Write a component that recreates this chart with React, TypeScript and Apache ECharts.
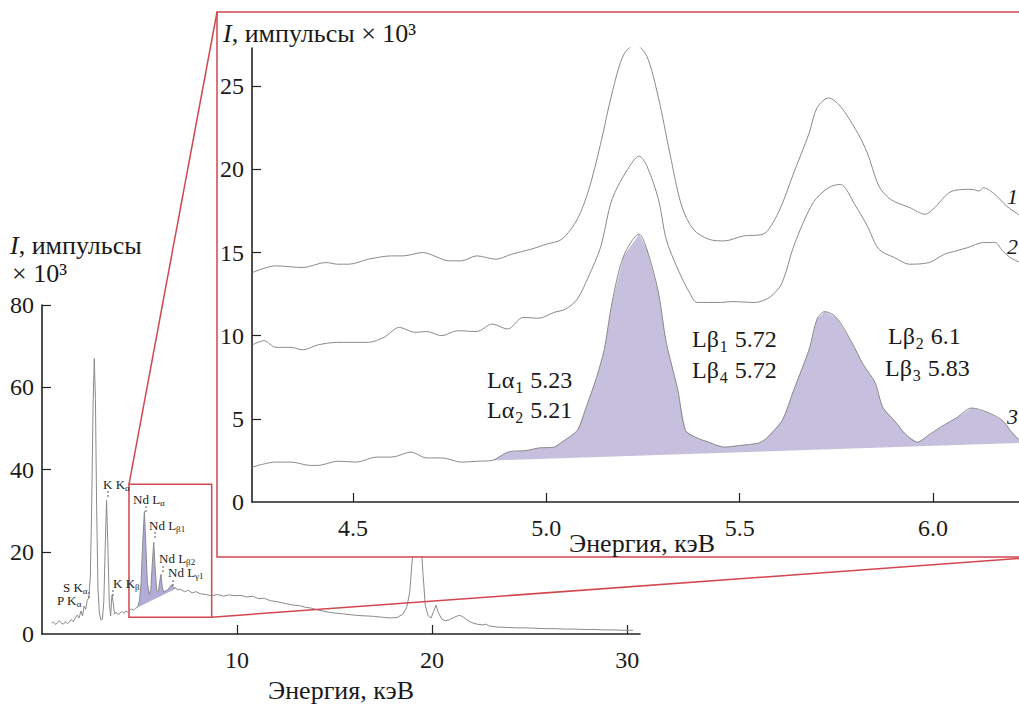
import React, { useEffect, useRef } from 'react';
import * as echarts from 'echarts';

// ---------- data ----------
const MAIN_SPECTRUM: [number, number][] = [
  [0.5, 2.6], [0.6, 2.9], [0.7, 2.3], [0.8, 2.8], [0.9, 3.2], [1.0, 2.6], [1.1, 2.4], [1.2, 3.0], [1.3, 2.5],
  [1.4, 2.9], [1.5, 3.5], [1.6, 3.0], [1.7, 3.8], [1.8, 4.6], [1.9, 3.9], [2.0, 5.6], [2.08, 4.4], [2.16, 6.8],
  [2.24, 6.0], [2.32, 8.2], [2.4, 8.8], [2.48, 14], [2.55, 32], [2.62, 56], [2.68, 67], [2.74, 57], [2.8, 31],
  [2.87, 11], [2.94, 5.2], [3.02, 3.4], [3.1, 3.6], [3.17, 8], [3.24, 21], [3.31, 32.5], [3.38, 21], [3.45, 7.5],
  [3.52, 4.4], [3.59, 9.5], [3.65, 7.6], [3.72, 4.8], [3.8, 5.3], [3.9, 4.7], [4.0, 5.1], [4.1, 5.5], [4.2, 5.0],
  [4.3, 5.6], [4.4, 5.3], [4.5, 5.8], [4.6, 6.1], [4.7, 5.8], [4.8, 6.3], [4.9, 6.5], [5.0, 8.2], [5.08, 12.5],
  [5.16, 22], [5.25, 29.8], [5.32, 22], [5.4, 12.5], [5.5, 9.6], [5.58, 10.8], [5.66, 17.5], [5.73, 22.3],
  [5.8, 16], [5.88, 10.6], [5.96, 10.3], [6.04, 12.8], [6.1, 14.5], [6.17, 11.2], [6.25, 10.2], [6.35, 10.5],
  [6.45, 10.7], [6.55, 11.4], [6.65, 12.0], [6.75, 11.1], [6.85, 11.3], [6.95, 10.7], [7.1, 10.9], [7.3, 10.3],
  [7.5, 10.6], [7.7, 10.0], [7.9, 10.3], [8.1, 9.8], [8.4, 9.6], [8.7, 9.3], [9.0, 9.6], [9.3, 9.2], [9.6, 9.5],
  [9.9, 9.3], [10.2, 9.4], [10.5, 9.0], [10.8, 9.2], [11.1, 8.6], [11.4, 8.7], [11.7, 8.1], [12.0, 7.9],
  [12.3, 7.6], [12.6, 7.3], [12.9, 7.0], [13.2, 6.9], [13.5, 6.5], [13.8, 6.3], [14.1, 5.9], [14.4, 5.6],
  [14.7, 5.3], [15.0, 5.1], [15.4, 4.9], [15.8, 4.7], [16.2, 4.5], [16.6, 4.4], [17.0, 4.3], [17.4, 4.1],
  [17.8, 3.9], [18.2, 4.0], [18.5, 4.8], [18.7, 6.5], [18.85, 10], [19.0, 19], [19.12, 32], [19.25, 38],
  [19.38, 30], [19.5, 17], [19.65, 7], [19.8, 4.4], [19.95, 3.9], [20.08, 5.5], [20.2, 7.0], [20.32, 5.2],
  [20.5, 3.6], [20.7, 3.2], [20.9, 3.5], [21.1, 4.0], [21.3, 4.4], [21.45, 4.5], [21.6, 4.1], [21.8, 3.4],
  [22.0, 2.8], [22.3, 2.4], [22.6, 2.2], [22.75, 2.4], [22.9, 2.0], [23.3, 1.7], [23.8, 1.6], [24.3, 1.5],
  [24.8, 1.5], [25.3, 1.4], [25.8, 1.3], [26.3, 1.3], [26.8, 1.2], [27.3, 1.2], [27.8, 1.1], [28.3, 1.1],
  [28.8, 1.0], [29.3, 1.0], [29.8, 0.9], [30.3, 0.9],
];
const MAIN_FILL_BASE: [number, number][] = [[4.92, 6.5], [6.85, 11.0]];
const ZOOM_BOX = { x0: 4.46, x1: 8.7, y0: 4.1, y1: 36.4 };
const MAIN_X_TICKS = [10, 20, 30];
const MAIN_Y_TICKS = [0, 20, 40, 60, 80];

const INSET_CURVE_1: [number, number][] = [
  [4.24, 13.8], [4.3, 14.2], [4.37, 14.1], [4.43, 14.4], [4.46, 14.3], [4.49, 14.3], [4.54, 14.6], [4.6, 14.8],
  [4.63, 14.8], [4.68, 15.0], [4.75, 14.5], [4.78, 14.5], [4.82, 14.8], [4.87, 14.6], [4.91, 14.9], [4.96, 15.2],
  [5.0, 15.5], [5.04, 15.8], [5.08, 17.0], [5.11, 18.8], [5.14, 21.5], [5.17, 24.6], [5.2, 26.9], [5.23, 27.5],
  [5.26, 26.8], [5.29, 24.3], [5.32, 20.9], [5.35, 17.8], [5.38, 16.4], [5.42, 15.8], [5.46, 15.7], [5.51, 16.0],
  [5.56, 16.1], [5.6, 17.4], [5.64, 19.8], [5.68, 22.2], [5.7, 23.7], [5.73, 24.3], [5.76, 23.8], [5.8, 22.4],
  [5.83, 21.0], [5.86, 19.0], [5.89, 18.2], [5.94, 17.7], [5.98, 17.3], [6.0, 17.6], [6.05, 18.7], [6.1, 18.8],
  [6.12, 18.7], [6.13, 18.9], [6.16, 18.5], [6.19, 17.8], [6.225, 17.2], [6.25, 16.5],
];
const INSET_CURVE_2: [number, number][] = [
  [4.24, 9.45], [4.27, 9.7], [4.3, 9.3], [4.34, 9.3], [4.37, 9.15], [4.41, 9.45], [4.46, 9.6], [4.49, 9.6],
  [4.54, 9.6], [4.58, 9.9], [4.62, 10.5], [4.66, 10.2], [4.69, 10.25], [4.73, 10.0], [4.77, 10.3], [4.82, 10.25],
  [4.86, 10.7], [4.9, 10.4], [4.94, 11.1], [4.98, 11.05], [5.02, 11.4], [5.05, 11.6], [5.08, 12.2], [5.11, 13.6],
  [5.14, 15.3], [5.17, 18.2], [5.21, 20.0], [5.24, 20.8], [5.26, 20.2], [5.29, 18.2], [5.31, 15.8], [5.34, 14.0],
  [5.37, 12.6], [5.39, 12.0], [5.45, 12.0], [5.48, 12.05], [5.54, 12.0], [5.58, 12.35], [5.61, 13.2], [5.64, 15.4],
  [5.69, 18.0], [5.73, 18.9], [5.76, 19.1], [5.8, 17.8], [5.83, 16.6], [5.86, 15.2], [5.9, 14.7], [5.94, 14.3],
  [5.99, 14.4], [6.03, 14.9], [6.06, 15.1], [6.09, 15.3], [6.13, 15.6], [6.16, 15.6], [6.18, 15.1], [6.2, 14.7],
  [6.225, 14.4], [6.25, 14.1],
];
const INSET_CURVE_3: [number, number][] = [
  [4.24, 2.1], [4.3, 2.4], [4.34, 2.4], [4.39, 2.2], [4.41, 2.2], [4.46, 2.45], [4.51, 2.4], [4.56, 2.7],
  [4.6, 2.7], [4.65, 3.0], [4.69, 2.65], [4.73, 2.65], [4.78, 2.4], [4.82, 2.45], [4.86, 2.5], [4.9, 3.0],
  [4.95, 3.1], [4.98, 3.25], [5.02, 3.3], [5.04, 3.6], [5.08, 4.3], [5.1, 5.5], [5.13, 7.5], [5.15, 9.2],
  [5.17, 12.0], [5.2, 14.8], [5.24, 16.1], [5.26, 15.2], [5.29, 12.6], [5.31, 9.6], [5.34, 6.75], [5.36, 4.3],
  [5.39, 3.85], [5.42, 3.6], [5.46, 3.3], [5.5, 3.4], [5.55, 3.55], [5.57, 3.85], [5.61, 4.9], [5.64, 6.75],
  [5.68, 9.2], [5.7, 11.0], [5.72, 11.45], [5.75, 11.1], [5.79, 9.6], [5.82, 8.25], [5.85, 7.2], [5.87, 5.7],
  [5.9, 4.9], [5.93, 4.05], [5.96, 3.6], [5.99, 4.05], [6.03, 4.65], [6.06, 5.05], [6.1, 5.65], [6.14, 5.4],
  [6.18, 4.9], [6.2, 4.3], [6.225, 3.7], [6.25, 3.5],
];
const INSET_FILL_BASE: [number, number][] = [[4.86, 2.5], [6.225, 3.55]];
const INSET_X_TICKS = [4.5, 5.0, 5.5, 6.0];
const INSET_Y_TICKS = [0, 5, 10, 15, 20, 25];

// ---------- styles ----------
const FONT = 'Liberation Serif, Times New Roman, serif';
const RED = '#d2464f';
const INK = '#1a1a1a';
const CURVE = '#8a8a8a';
const MAIN_FILL = '#b3acd9';
const INSET_FILL = '#c6c0de';
const TITLE_SIZE = 26;

function interp(curve: [number, number][], x: number): number {
  for (let i = 0; i < curve.length - 1; i++) {
    const [x0, y0] = curve[i];
    const [x1, y1] = curve[i + 1];
    if (x >= x0 && x <= x1) return y0 + ((y1 - y0) * (x - x0)) / (x1 - x0);
  }
  return curve[curve.length - 1][1];
}

function fillPolygon(curve: [number, number][], base: [number, number][]): number[][] {
  const [[xs, ys], [xe, ye]] = base;
  const pts: number[][] = [[xs, interp(curve, xs)]];
  curve.forEach(([x, y]) => {
    if (x > xs && x < xe) pts.push([x, y]);
  });
  pts.push([xe, interp(curve, xe)]);
  pts.push([xe, ye]);
  pts.push([xs, ys]);
  return pts;
}

function polygonSeries(poly: number[][], idx: number, color: string, z: number) {
  return {
    type: 'custom',
    xAxisIndex: idx,
    yAxisIndex: idx,
    z,
    silent: true,
    clip: true,
    data: [poly[0]],
    renderItem: (_p: any, api: any) => ({
      type: 'polygon',
      shape: { points: poly.map((p) => api.coord(p)) },
      style: { fill: color, stroke: 'none' },
    }),
  };
}

function lineSeries(data: [number, number][], idx: number, z: number, extra: any = {}) {
  return {
    type: 'line',
    xAxisIndex: idx,
    yAxisIndex: idx,
    data,
    z,
    showSymbol: false,
    silent: true,
    clip: true,
    lineStyle: { color: CURVE, width: 1 },
    ...extra,
  };
}

const axisText = { fontSize: 24, fontFamily: FONT, color: INK };
const nameText = { fontSize: TITLE_SIZE, fontFamily: FONT, color: INK };

function buildOption(): any {
  return {
    animation: false,
    backgroundColor: '#ffffff',
    textStyle: { fontFamily: FONT },
    grid: [
      { left: 42, top: 305, width: 598, height: 329, outerBoundsMode: 'none', containLabel: false },
      { left: 252, top: 48, width: 767, height: 454, outerBoundsMode: 'none', containLabel: false },
    ],
    xAxis: [
      {
        gridIndex: 0, type: 'value', min: 0, max: 30.66,
        axisLine: { show: true, onZero: false, lineStyle: { color: '#222', width: 1.6 } },
        axisTick: { show: true, inside: true, length: 9, customValues: MAIN_X_TICKS, lineStyle: { color: '#222', width: 1.2 } },
        axisLabel: { customValues: MAIN_X_TICKS, margin: 14, ...axisText },
        splitLine: { show: false },
        name: 'Энергия, кэВ', nameLocation: 'middle', nameGap: 43, nameMoveOverlap: false, nameTextStyle: nameText,
      },
      {
        gridIndex: 1, type: 'value', min: 4.2388, max: 6.2224, z: 4,
        axisLine: { show: true, onZero: false, lineStyle: { color: '#222', width: 1.6 } },
        axisTick: { show: true, inside: true, length: 9, customValues: INSET_X_TICKS, lineStyle: { color: '#222', width: 1.2 } },
        axisLabel: { customValues: INSET_X_TICKS, margin: 14, formatter: (v: number) => v.toFixed(1), ...axisText },
        splitLine: { show: false },
        name: 'Энергия, кэВ', nameLocation: 'middle', nameGap: 28, nameMoveOverlap: false,
        nameTextStyle: { ...nameText, padding: [0, 0, 0, 13] },
      },
    ],
    yAxis: [
      {
        gridIndex: 0, type: 'value', min: 0, max: 80,
        axisLine: { show: true, onZero: false, lineStyle: { color: '#222', width: 1.6 } },
        axisTick: { show: true, inside: true, length: 9, customValues: [20, 40, 60, 80], lineStyle: { color: '#222', width: 1.2 } },
        axisLabel: { customValues: MAIN_Y_TICKS, margin: 8, ...axisText },
        splitLine: { show: false },
      },
      {
        gridIndex: 1, type: 'value', min: 0, max: 27.3, z: 4,
        axisLine: { show: true, onZero: false, lineStyle: { color: '#222', width: 1.6 } },
        axisTick: { show: true, inside: true, length: 9, customValues: [5, 10, 15, 20, 25], lineStyle: { color: '#222', width: 1.2 } },
        axisLabel: { customValues: INSET_Y_TICKS, margin: 8, ...axisText },
        splitLine: { show: false },
      },
    ],
    series: [
      polygonSeries(fillPolygon(MAIN_SPECTRUM, MAIN_FILL_BASE), 0, MAIN_FILL, 1),
      lineSeries(MAIN_SPECTRUM, 0, 2, {
        markArea: {
          silent: true,
          itemStyle: { color: 'rgba(0,0,0,0)', borderColor: RED, borderWidth: 1.5 },
          data: [[{ coord: [ZOOM_BOX.x0, ZOOM_BOX.y1] }, { coord: [ZOOM_BOX.x1, ZOOM_BOX.y0] }]],
        },
      }),
      polygonSeries(fillPolygon(INSET_CURVE_3, INSET_FILL_BASE), 1, INSET_FILL, 5),
      lineSeries(INSET_CURVE_1, 1, 6, { smooth: 0.3 }),
      lineSeries(INSET_CURVE_2, 1, 6, { smooth: 0.3 }),
      lineSeries(INSET_CURVE_3, 1, 6, { smooth: 0.3 }),
    ],
  };
}

// rich-text label helpers
function bigLabel(x: number, y: number, main: string, sub: string, tail: string) {
  return {
    type: 'text', x, y, z: 8, silent: true,
    style: {
      text: `{n|${main}}{s|${sub}}{n|${tail}}`,
      verticalAlign: 'middle',
      fill: INK,
      rich: {
        n: { fontSize: 24, fontFamily: FONT, fill: INK, color: INK },
        s: { fontSize: 16, fontFamily: FONT, padding: [14, 1, 0, 1], fill: INK, color: INK },
      },
    },
  };
}
function smallLabel(x: number, y: number, main: string, sub: string) {
  return {
    type: 'text', x, y, z: 8, silent: true,
    style: {
      text: `{n|${main}}{s|${sub}}`,
      verticalAlign: 'middle',
      fill: '#222',
      rich: {
        n: { fontSize: 13, fontFamily: FONT, fill: '#222', color: '#222' },
        s: { fontSize: 9, fontFamily: FONT, padding: [7, 0, 0, 0], fill: '#222', color: '#222' },
      },
    },
  };
}
function dash(x: number, y1: number, y2: number) {
  return {
    type: 'line', z: 8, silent: true,
    shape: { x1: x, y1, x2: x, y2 },
    style: { stroke: '#555', lineWidth: 1, lineDash: [2, 2] },
  };
}

function titleText(x: number, y: number, rest: string) {
  return {
    type: 'text', x, y, z: 8, silent: true,
    style: {
      text: `{i|I}{n|${rest}}`, verticalAlign: 'middle',
      rich: {
        i: { fontSize: TITLE_SIZE, fontFamily: FONT, fontStyle: 'italic', fill: INK, color: INK },
        n: { fontSize: TITLE_SIZE, fontFamily: FONT, fill: INK, color: INK },
      },
    },
  };
}

function buildGraphics(tl: number[], br: number[]) {
  return [
    // inset background with red frame
    {
      type: 'rect', z: 3, silent: true,
      shape: { x: 217, y: 12, width: 840, height: 545 },
      style: { fill: '#ffffff', stroke: RED, lineWidth: 1.5 },
    },
    // connector lines from zoom box to inset
    { type: 'line', z: 3, silent: true, shape: { x1: tl[0], y1: tl[1], x2: 217, y2: 12 }, style: { stroke: RED, lineWidth: 1.5 } },
    { type: 'line', z: 3, silent: true, shape: { x1: br[0], y1: br[1], x2: 1040, y2: 557 }, style: { stroke: RED, lineWidth: 1.5 } },
    // main y-axis title
    titleText(10, 245, ', импульсы'),
    {
      type: 'text', x: 12, y: 273, z: 8, silent: true,
      style: { text: '× 10³', verticalAlign: 'middle', fontSize: TITLE_SIZE, fontFamily: FONT, fill: INK },
    },
    // inset y-axis title
    titleText(223, 33, ', импульсы × 10³'),
    // inset peak labels
    bigLabel(487, 380, 'Lα', '1', ' 5.23'),
    bigLabel(487, 410, 'Lα', '2', ' 5.21'),
    bigLabel(692, 339, 'Lβ', '1', ' 5.72'),
    bigLabel(692, 370, 'Lβ', '4', ' 5.72'),
    bigLabel(888, 336, 'Lβ', '2', ' 6.1'),
    bigLabel(885, 368, 'Lβ', '3', ' 5.83'),
    // curve numbers at the right edge
    { type: 'text', x: 1007, y: 196, z: 8, silent: true, style: { text: '1', verticalAlign: 'middle', fontSize: 22, fontFamily: FONT, fontStyle: 'italic', fill: INK } },
    { type: 'text', x: 1007, y: 246, z: 8, silent: true, style: { text: '2', verticalAlign: 'middle', fontSize: 22, fontFamily: FONT, fontStyle: 'italic', fill: INK } },
    { type: 'text', x: 1007, y: 416, z: 8, silent: true, style: { text: '3', verticalAlign: 'middle', fontSize: 22, fontFamily: FONT, fontStyle: 'italic', fill: INK } },
    // main chart peak labels
    smallLabel(63, 587, 'S K', 'α'),
    smallLabel(57, 600, 'P K', 'α'),
    smallLabel(103, 484, 'K K', 'α'),
    smallLabel(113, 583, 'K K', 'β'),
    smallLabel(133, 499, 'Nd L', 'α'),
    smallLabel(149, 525, 'Nd L', 'β1'),
    smallLabel(159, 558, 'Nd L', 'β2'),
    smallLabel(168, 572, 'Nd L', 'γ1'),
    dash(89, 592, 598),
    dash(108, 491, 498),
    dash(113, 590, 596),
    dash(146, 506, 512),
    dash(155, 532, 539),
    dash(163, 566, 573),
    dash(173, 580, 586),
  ];
}

export default function App() {
  const ref = useRef<HTMLDivElement>(null);
  useEffect(() => {
    const chart = echarts.init(ref.current!, null, { renderer: 'svg' });
    chart.setOption(buildOption());
    const tl = chart.convertToPixel({ gridIndex: 0 }, [ZOOM_BOX.x0, ZOOM_BOX.y1]) as number[];
    const br = chart.convertToPixel({ gridIndex: 0 }, [ZOOM_BOX.x1, ZOOM_BOX.y0]) as number[];
    chart.setOption({ graphic: { elements: buildGraphics(tl, br) } });
    return () => chart.dispose();
  }, []);
  return (
    <div
      ref={ref}
      style={{ position: 'fixed', left: 0, top: 0, width: 1019, height: 706, background: '#ffffff' }}
    />
  );
}
